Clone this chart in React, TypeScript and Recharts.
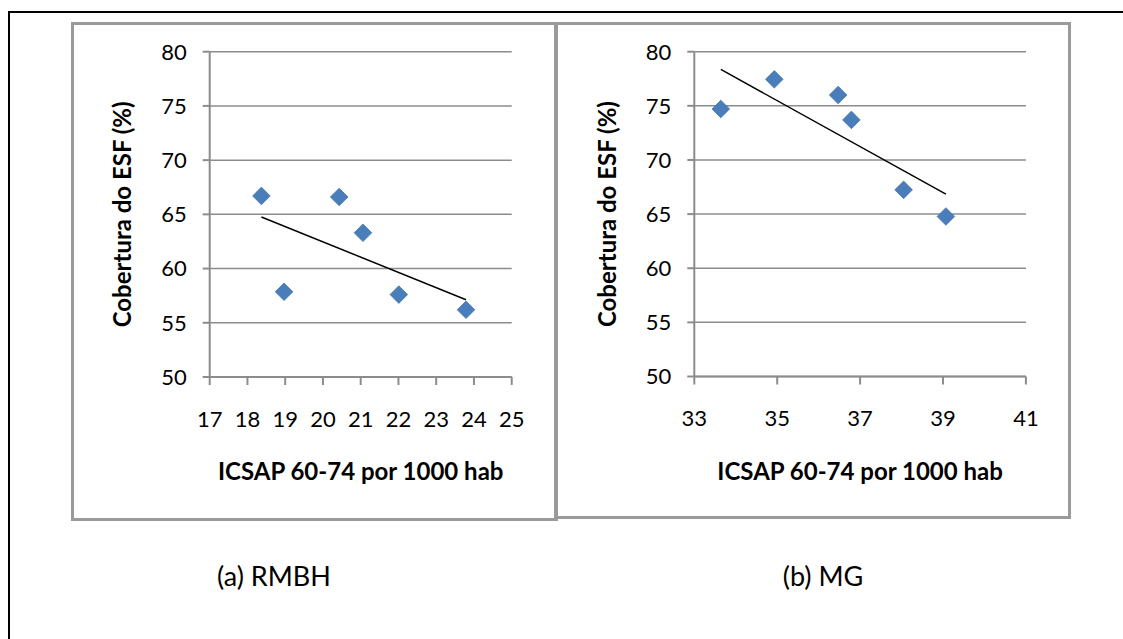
import React from "react";
import { ScatterChart, Scatter, XAxis, YAxis, CartesianGrid, Label } from "recharts";

// ---- data ----
const rmbhX = [18.37, 18.97, 20.43, 21.06, 22.01, 23.79];
const rmbhY = [66.7, 57.86, 66.6, 63.3, 57.6, 56.2];
const mgX = [33.64, 34.93, 36.47, 36.79, 38.05, 39.07];
const mgY = [74.71, 77.45, 76.0, 73.7, 67.24, 64.78];
const rmbhXTicks = [17, 18, 19, 20, 21, 22, 23, 24, 25];
const mgXTicks = [33, 35, 37, 39, 41];
const yTicks = [50, 55, 60, 65, 70, 75, 80];
const xLabel = "ICSAP 60-74 por 1000 hab";
const yLabel = "Cobertura do ESF (%)";
const captions = ["(a) RMBH", "(b) MG"];

const FONT = "Lato, 'Open Sans', sans-serif";

function toPoints(xs: number[], ys: number[]) {
  return xs.map((x, i) => ({ x, y: ys[i] }));
}

function trend(xs: number[], ys: number[]) {
  const n = xs.length;
  const mx = xs.reduce((a, b) => a + b, 0) / n;
  const my = ys.reduce((a, b) => a + b, 0) / n;
  let sxy = 0, sxx = 0;
  for (let i = 0; i < n; i++) {
    sxy += (xs[i] - mx) * (ys[i] - my);
    sxx += (xs[i] - mx) * (xs[i] - mx);
  }
  const b = sxy / sxx;
  const a = my - b * mx;
  const x0 = Math.min(...xs);
  const x1 = Math.max(...xs);
  return [
    { x: x0, y: a + b * x0 },
    { x: x1, y: a + b * x1 },
  ];
}

const Diamond = (props: any) => {
  const { cx, cy } = props;
  const r = 8.8;
  return (
    <polygon
      points={`${cx},${cy - r} ${cx + r},${cy} ${cx},${cy + r} ${cx - r},${cy}`}
      fill="#4a7ebb"
      stroke="#4576b3"
      strokeWidth={0.8}
    />
  );
};

const NoShape = () => <g />;

const XLabelContent = (props: any) => {
  const vb = props.viewBox || {};
  return (
    <text
      x={vb.x + vb.width / 2}
      y={vb.y + 103}
      textAnchor="middle"
      fontFamily={FONT}
      fontWeight="bold"
      fontSize={24}
      fill="#000"
    >
      {xLabel}
    </text>
  );
};

const YLabelContent = (props: any) => {
  const vb = props.viewBox || {};
  const cx = vb.x + vb.width - 88 + 9.5;
  const cy = vb.y + vb.height / 2;
  return (
    <text
      x={cx}
      y={cy}
      textAnchor="middle"
      transform={`rotate(-90, ${cx}, ${cy})`}
      fontFamily={FONT}
      fontWeight="bold"
      fontSize={24}
      fill="#000"
    >
      {yLabel}
    </text>
  );
};

type PanelProps = {
  left: number;
  top: number;
  width: number;
  height: number;
  margin: { top: number; right: number; bottom: number; left: number };
  xs: number[];
  ys: number[];
  xTicks: number[];
};

const Panel = ({ left, top, width, height, margin, xs, ys, xTicks }: PanelProps) => {
  const pts = toPoints(xs, ys);
  const line = trend(xs, ys);
  const tickStyle = { fill: "#000", fontSize: 22, fontFamily: FONT };
  return (
    <div style={{ position: "absolute", left, top, width, height }}>
      <div
        style={{
          position: "absolute",
          left: 0,
          top: 0,
          width,
          height,
          boxSizing: "border-box",
          border: "3px solid #9a9a9a",
        }}
      />
      <div style={{ position: "absolute", left: 0, top: 0 }}>
        <ScatterChart width={width} height={height} margin={margin}>
          <CartesianGrid horizontal vertical={false} stroke="#8c8c8c" strokeWidth={1.5} />
          <XAxis
            type="number"
            dataKey="x"
            domain={[xTicks[0], xTicks[xTicks.length - 1]]}
            ticks={xTicks}
            interval={0}
            allowDataOverflow
            height={60}
            tickSize={8}
            tickMargin={26}
            tick={tickStyle}
            axisLine={{ stroke: "#8c8c8c", strokeWidth: 2 }}
            tickLine={{ stroke: "#8c8c8c", strokeWidth: 2 }}
          >
            <Label content={<XLabelContent />} />
          </XAxis>
          <YAxis
            type="number"
            dataKey="y"
            domain={[50, 80]}
            ticks={yTicks}
            interval={0}
            allowDataOverflow
            width={60}
            tickSize={7}
            tickMargin={16}
            tick={tickStyle}
            axisLine={{ stroke: "#8c8c8c", strokeWidth: 2 }}
            tickLine={{ stroke: "#8c8c8c", strokeWidth: 2 }}
          >
            <Label content={<YLabelContent />} />
          </YAxis>
          <Scatter
            data={line}
            line={{ stroke: "#000", strokeWidth: 1.5 }}
            shape={NoShape}
            isAnimationActive={false}
          />
          <Scatter data={pts} shape={Diamond} isAnimationActive={false} />
        </ScatterChart>
      </div>
    </div>
  );
};

export default function App() {
  return (
    <div
      style={{
        position: "fixed",
        left: 0,
        top: 0,
        width: 1123,
        height: 639,
        overflow: "hidden",
        background: "#fff",
        fontFamily: FONT,
      }}
    >
      <div
        style={{
          position: "absolute",
          left: 8,
          top: 11,
          width: 1200,
          height: 700,
          borderTop: "2px solid #000",
          borderLeft: "2px solid #000",
        }}
      />
      <Panel
        left={71}
        top={22}
        width={487}
        height={499}
        margin={{ top: 29.7, right: 46.3, bottom: 84, left: 78.7 }}
        xs={rmbhX}
        ys={rmbhY}
        xTicks={rmbhXTicks}
      />
      <Panel
        left={554}
        top={22}
        width={517}
        height={497}
        margin={{ top: 29.7, right: 45.1, bottom: 82.5, left: 80.3 }}
        xs={mgX}
        ys={mgY}
        xTicks={mgXTicks}
      />
      <div
        style={{
          position: "absolute",
          left: 274,
          top: 575,
          transform: "translate(-50%, -50%)",
          fontSize: 27,
          whiteSpace: "nowrap",
          color: "#000",
        }}
      >
        {captions[0]}
      </div>
      <div
        style={{
          position: "absolute",
          left: 823,
          top: 575,
          transform: "translate(-50%, -50%)",
          fontSize: 27,
          whiteSpace: "nowrap",
          color: "#000",
        }}
      >
        {captions[1]}
      </div>
    </div>
  );
}
